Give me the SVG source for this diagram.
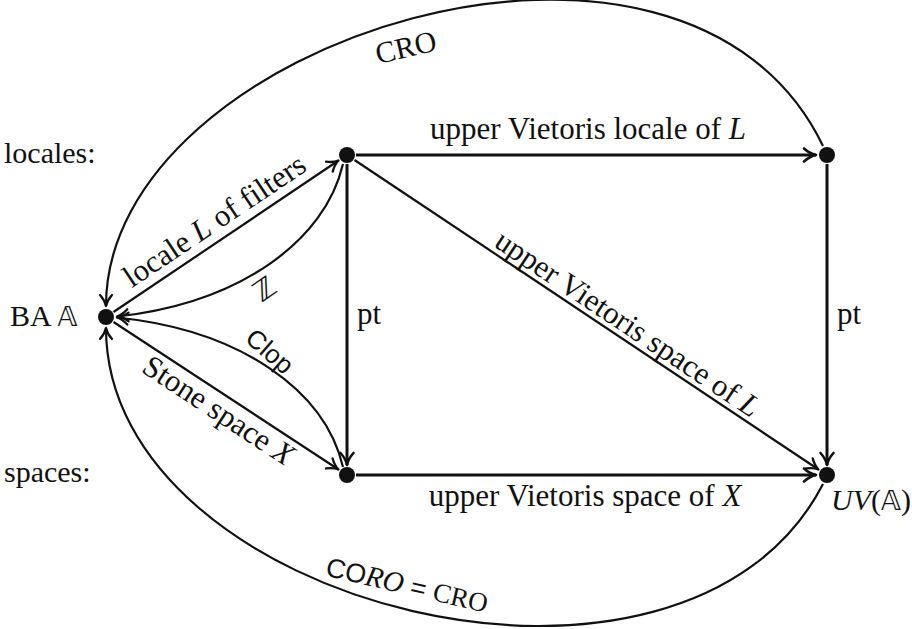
<svg xmlns="http://www.w3.org/2000/svg" width="912" height="629" viewBox="0 0 912 629">
<defs>
<style>
.t{font-family:"Liberation Serif","Times New Roman",serif;font-size:31px;fill:#111}
.r{font-family:"Liberation Serif","Times New Roman",serif;font-size:30px;fill:#111}
.s{font-family:"Liberation Sans",Arial,sans-serif;fill:#111}
.m{font-family:"DejaVu Sans",sans-serif}
.i{font-style:italic}
.thick{stroke:#111;stroke-width:3;fill:none}
.thin{stroke:#111;stroke-width:2.2;fill:none}
.dot{fill:#111}
</style>
<marker id="ah" markerUnits="userSpaceOnUse" orient="auto" refX="0" refY="0" markerWidth="20" markerHeight="20" overflow="visible">
<path d="M -12,-6.5 C -7,-2 -3,-0.6 0,0 C -3,0.6 -7,2 -12,6.5" fill="none" stroke="#111" stroke-width="2.6" stroke-linecap="round" stroke-linejoin="round"/>
</marker>
<marker id="ahs" markerUnits="userSpaceOnUse" orient="auto" refX="0" refY="0" markerWidth="20" markerHeight="20" overflow="visible">
<path d="M -11,-6 C -6.5,-2 -3,-0.6 0,0 C -3,0.6 -6.5,2 -11,6" fill="none" stroke="#111" stroke-width="2.3" stroke-linecap="round" stroke-linejoin="round"/>
</marker>
</defs>
<rect width="912" height="629" fill="#fff"/>

<g id="connectors">
<line class="thick" x1="356" y1="155" x2="816" y2="155" marker-end="url(#ah)"/>
<line class="thick" x1="827" y1="164" x2="827" y2="465" marker-end="url(#ah)"/>
<line class="thick" x1="347" y1="164" x2="347" y2="465" marker-end="url(#ah)"/>
<line class="thick" x1="356" y1="475" x2="816" y2="475" marker-end="url(#ah)"/>
<line class="thin" x1="354.5" y1="160" x2="818.5" y2="469.5" marker-end="url(#ahs)"/>
<line class="thin" x1="113.5" y1="312" x2="338.5" y2="160.5" marker-end="url(#ahs)"/>
<line class="thin" x1="113.5" y1="322" x2="338.5" y2="469.5" marker-end="url(#ahs)"/>
<path class="thin" d="M 343,164 C 325,241 240,303 117,316.5" marker-end="url(#ahs)"/>
<path class="thin" d="M 343,467 C 325,390 240,330 117,317.5" marker-end="url(#ahs)"/>
<path class="thin" d="M 823,146 C 685,-142 106,40 106,306" marker-end="url(#ahs)"/>
<path class="thin" d="M 823,484 C 685,752 106,607 106,328" marker-end="url(#ahs)"/>
</g>

<g id="edge-labels">
<text class="t" x="588" y="139" text-anchor="middle">upper Vietoris locale of <tspan class="i">L</tspan></text>
<text class="t" x="585" y="506" text-anchor="middle">upper Vietoris space of <tspan class="i">X</tspan></text>
<text class="t" x="357" y="324">pt</text>
<text class="t" x="837" y="324">pt</text>
<text class="t" text-anchor="middle" transform="translate(220,229) rotate(-33.9)">locale <tspan class="i">L</tspan> of filters</text>
<text class="t" text-anchor="middle" transform="translate(213,419) rotate(33.3)">Stone space <tspan class="i">X</tspan></text>
<text class="t" text-anchor="middle" transform="translate(622,332) rotate(33.7)">upper Vietoris space of <tspan class="i">L</tspan></text>
<text class="m" font-size="28" fill="#111" text-anchor="middle" transform="translate(270,297) rotate(-35)">ℤ</text>
<text class="s" font-size="26" text-anchor="middle" transform="translate(264,358) rotate(41)">Clop</text>
<text class="r" font-size="25" text-anchor="middle" transform="translate(408,57) rotate(-13)">CRO</text>
<text class="s" font-size="27" text-anchor="middle" transform="translate(405,594) rotate(13)">CO<tspan font-family="Liberation Serif, serif" font-style="italic" font-size="29">RO</tspan> = <tspan font-family="Liberation Serif, serif">CRO</tspan></text>
</g>

<g id="row-labels">
<text class="r" x="4" y="163">locales:</text>
<text class="r" x="4" y="482">spaces:</text>
</g>

<g id="node-BA">
<circle class="dot" cx="106" cy="317" r="8"/>
<text class="r" x="10" y="326">BA <tspan class="m" font-size="27">𝔸</tspan></text>
</g>
<g id="node-L">
<circle class="dot" cx="347" cy="155" r="8"/>
</g>
<g id="node-X">
<circle class="dot" cx="347" cy="475" r="8"/>
</g>
<g id="node-UVL">
<circle class="dot" cx="827" cy="155" r="8"/>
</g>
<g id="node-UV">
<circle class="dot" cx="827" cy="475" r="8"/>
<text class="r" x="831" y="510"><tspan class="i">UV</tspan>(<tspan class="m" font-size="27">𝔸</tspan>)</text>
</g>
</svg>
